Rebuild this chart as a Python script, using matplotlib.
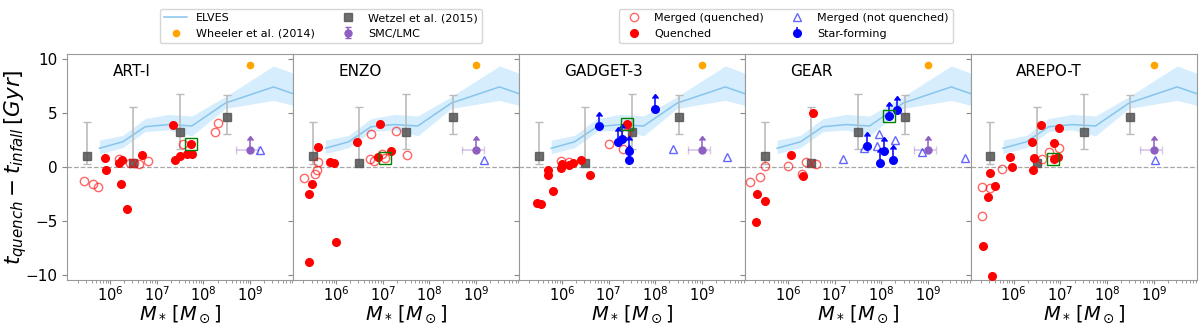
import numpy as np
import matplotlib
matplotlib.use('Agg')
from matplotlib import pyplot as plt

sims = ['ART-I', 'ENZO', 'GADGET-3', 'GEAR', 'AREPO-T']

# log10(M*) and t_quench - t_infall [Gyr], one list per simulation
q_logm = [[5.88, 5.91, 6.2, 6.26, 6.24, 6.37, 6.69, 7.34, 7.4, 7.49, 7.64, 7.73, 7.76],
          [5.62, 5.41, 5.49, 5.42, 5.86, 5.95, 5.99, 6.44, 6.89, 6.94, 7.18],
          [5.47, 5.56, 5.8, 5.7, 5.7, 5.97, 6.0, 6.14, 6.23, 6.41, 6.59, 7.4],
          [5.33, 5.5, 5.31, 6.06, 6.33, 6.53],
          [5.49, 5.44, 5.59, 5.34, 5.54, 5.91, 5.96, 6.39, 6.43, 6.41, 6.59, 6.87, 6.97, 6.94, 6.87]]
q_dt = [[0.87, -0.25, 0.37, 0.62, -1.61, -3.9, 1.11, 3.87, 0.68, 0.99, 1.24, 2.1, 1.18],
        [1.86, -2.48, -1.61, -8.82, 0.5, 0.37, -7.0, 2.29, 0.93, 4.02, 1.49],
        [-3.34, -3.47, -2.23, -0.31, -0.77, -0.12, 0.31, 0.19, 0.37, 0.62, -0.77, 4.02],
        [-2.54, -3.19, -5.11, 1.15, -0.87, 5.02],
        [-0.53, -2.79, -1.73, -7.34, -10.09, 0.93, 0.0, 2.32, 0.87, -0.25, 3.93, 2.23, 3.59, 0.93, 0.77]]

mq_logm = [[5.43, 5.64, 5.73, 6.2, 6.43, 6.52, 6.61, 6.81, 7.56, 8.24, 8.31],
           [5.31, 5.55, 5.59, 5.62, 6.72, 6.81, 6.75, 6.98, 7.05, 7.28, 7.51],
           [5.99, 6.16, 7.01, 7.3, 7.37],
           [5.18, 5.41, 5.5, 6.01, 6.31, 6.39, 6.61],
           [5.31, 5.49, 5.31, 5.74, 6.6, 6.76, 6.96]]
mq_dt = [[-1.3, -1.61, -1.86, 0.74, 0.37, 0.37, 0.25, 0.56, 2.17, 3.22, 4.09],
         [-1.05, -0.62, -0.25, 0.5, 0.74, 0.56, 3.1, 1.24, 0.8, 3.34, 1.11],
         [0.56, 0.43, 2.17, 1.67, 3.16],
         [-1.39, -0.93, 0.12, 0.06, -0.68, 0.5, 0.25],
         [-1.86, -1.92, -4.55, -0.22, 0.71, 1.42, 1.73]]

sf_logm = [[], [], [6.79, 7.19, 7.29, 7.44, 7.44, 8.0],
           [7.7, 7.97, 8.07, 8.17, 8.26, 8.33], []]
sf_dt = [[], [], [3.78, 2.35, 2.6, 1.49, 0.68, 5.42],
         [1.92, 0.37, 1.46, 4.71, 0.68, 5.26], []]

mn_logm = [[9.21], [9.16], [8.37, 9.54], [7.19, 7.64, 7.9, 7.96, 8.3, 8.87, 9.79], [9.02]]
mn_dt = [[1.55], [0.62], [1.67, 0.93], [0.77, 1.73, 1.92, 3.1, 2.54, 1.42, 0.87], [0.62]]

# boxed halo in each simulation
box_logm = [7.73, 7.05, 7.4, 8.17, 6.85]
box_dt = [2.1, 0.8, 4.02, 4.71, 0.71]

# ELVES median and spread
elves_logm = [5.77, 6.27, 6.75, 7.25, 7.75, 8.47, 9.5, 10.0]
elves_med = [1.75, 2.35, 3.75, 3.95, 3.82, 5.95, 7.45, 6.7]
elves_lo = [1.25, 1.8, 3.3, 3.45, 2.9, 5.45, 6.2, 5.65]
elves_hi = [2.5, 2.95, 4.5, 4.9, 4.75, 6.55, 9.4, 8.6]

# Wetzel et al. (2015)
wetzel_logm = [5.5, 6.5, 7.5, 8.5]
wetzel_dt = [1.05, 0.37, 3.28, 4.64]
wetzel_lo = [0.25, 0.2, 1.67, 3.07]
wetzel_hi = [4.15, 5.57, 6.75, 6.68]

# Wheeler et al. (2014)
wheeler_logm = [9.0]
wheeler_dt = [9.5]

# SMC/LMC
lmc_logm = [9.0]
lmc_dt = [1.55]
lmc_xerr = [5e8]
lmc_arrow = [1.0]

purple = '#8e5fc2'
fig, axes = plt.subplots(1, 5, figsize=(12, 3.26), dpi=100, sharey=True)
plt.subplots_adjust(left=0.056, right=0.9973, top=0.834, bottom=0.141, wspace=0)

for i, ax in enumerate(axes):
    ax.set_xscale('log')
    ax.axhline(0, color='grey', ls='--', lw=0.9, alpha=0.7, zorder=0)

    m_el = 10 ** np.array(elves_logm)
    ax.fill_between(m_el, elves_lo, elves_hi, color='lightskyblue', alpha=0.35, lw=0, zorder=1)
    l_elves, = ax.plot(m_el, elves_med, color='#87c5ec', lw=1.1, zorder=2)

    m_w = 10 ** np.array(wetzel_logm)
    yerr = [np.array(wetzel_dt) - np.array(wetzel_lo), np.array(wetzel_hi) - np.array(wetzel_dt)]
    ax.errorbar(m_w, wetzel_dt, yerr=yerr, fmt='none', ecolor='#bbbbbb', capsize=3, lw=1.2, zorder=2)
    h_wetzel, = ax.plot(m_w, wetzel_dt, 's', color='#555555', alpha=0.85, ms=6, zorder=3)

    h_wheeler, = ax.plot(10 ** np.array(wheeler_logm), wheeler_dt, 'o', color='orange', ms=4.5, zorder=3)

    m_l = 10 ** np.array(lmc_logm)
    ax.errorbar(m_l, lmc_dt, xerr=lmc_xerr, fmt='none', ecolor=purple, alpha=0.35, capsize=3, lw=1.2)
    h_lmc = ax.errorbar(m_l, lmc_dt, yerr=lmc_arrow, lolims=True, fmt='o', color=purple,
                        ms=5, capsize=2, lw=1.1, zorder=4)

    h_mq, = ax.plot(10 ** np.array(mq_logm[i]), mq_dt[i], 'o', mfc='none', mec='red', alpha=0.6,
                    ms=6, mew=1, ls='none', zorder=4)
    h_q, = ax.plot(10 ** np.array(q_logm[i]), q_dt[i], 'o', color='red', ms=5.5, ls='none', zorder=5)
    h_mn, = ax.plot(10 ** np.array(mn_logm[i]), mn_dt[i], '^', mfc='none', mec='blue', alpha=0.6,
                    ms=6, mew=1, ls='none', zorder=4)
    if sf_logm[i]:
        ax.errorbar(10 ** np.array(sf_logm[i]), sf_dt[i], yerr=1.0, lolims=True, fmt='o',
                    color='blue', ms=5.5, capsize=2, lw=1.1, zorder=5)
    ax.plot(10 ** box_logm[i], box_dt[i], 's', mfc='none', mec='green', ms=8, mew=1, zorder=6)

    ax.text(0.2, 0.925, sims[i], transform=ax.transAxes, fontsize=11, va='center', ha='left')
    ax.set_xlim(10 ** 5.08, 10 ** 9.92)
    ax.set_ylim(-10.5, 10.5)
    ax.set_xlabel(r'$M_*\,[M_\odot]$', fontsize=14, labelpad=0)
    ax.tick_params(axis='x', labelsize=10.5, pad=0.5, length=3, color='#888888')
    ax.tick_params(axis='x', which='minor', length=2, color='#888888')
    ax.tick_params(axis='y', labelsize=11, color='#888888')
    for s in ax.spines.values():
        s.set_color('#999999')

h_sf = axes[2].errorbar([], [], yerr=[], lolims=True, fmt='o', color='blue', ms=5.5, capsize=2, lw=1.1)

axes[0].set_ylabel(r'$t_{quench} - t_{infall}\,[Gyr]$', fontsize=15.5)
axes[0].yaxis.set_label_coords(-0.17, 0.5)
axes[0].set_yticks([-10, -5, 0, 5, 10])

fig.legend([l_elves, h_wheeler, h_wetzel, h_lmc],
           ['ELVES', 'Wheeler et al. (2014)', 'Wetzel et al. (2015)', 'SMC/LMC'],
           loc='upper center', bbox_to_anchor=(0.2675, 0.99), ncol=2, fontsize=8)
fig.legend([h_mq, h_q, h_mn, h_sf],
           ['Merged (quenched)', 'Quenched', 'Merged (not quenched)', 'Star-forming'],
           loc='upper center', bbox_to_anchor=(0.655, 0.99), ncol=2, fontsize=8)

plt.savefig('out.png', dpi=100)
